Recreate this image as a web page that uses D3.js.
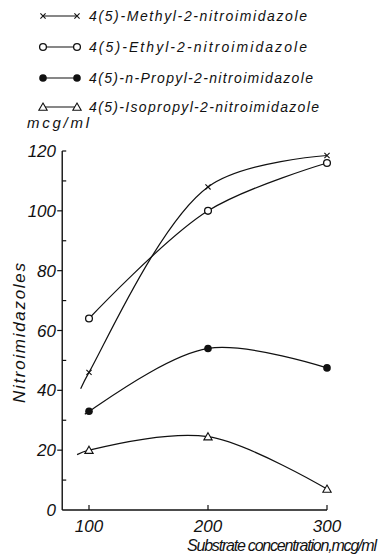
<!DOCTYPE html>
<html>
<head>
<meta charset="utf-8">
<script src="https://cdn.jsdelivr.net/npm/d3@7"></script>
<style>
  body { margin: 0; background: #fff; }
  svg text { font-family: "Liberation Sans", Arial, sans-serif; font-style: italic; fill: #111; }
</style>
</head>
<body>
<div id="chart"></div>
<script>
// substrate concentration (mcg/ml)
const concentrations = [100, 200, 300];

const seriesNames = [
  "4(5)-Methyl-2-nitroimidazole",
  "4(5)-Ethyl-2-nitroimidazole",
  "4(5)-n-Propyl-2-nitroimidazole",
  "4(5)-Isopropyl-2-nitroimidazole"
];
const seriesMarkers = ["cross", "circle", "dot", "triangle"];

// nitroimidazoles, mcg/ml
const methylValues = [46, 108, 118.5];
const ethylValues = [64, 100, 116];
const propylValues = [33, 54, 47.5];
const isopropylValues = [20, 24.5, 7];

// where each hand-drawn curve starts, left of the first point [x, y]
const curveStarts = [[93, 40.5], null, [96.5, 32], [90, 18.5]];

const yTicks = [0, 20, 40, 60, 80, 100, 120];
const yMinorTicks = [10, 30, 50, 70, 90, 110];
const xTicks = [100, 200, 300];

const allValues = [methylValues, ethylValues, propylValues, isopropylValues];

const width = 380, height = 554;

const svg = d3.select("#chart").append("svg")
  .attr("width", width)
  .attr("height", height);

const x = d3.scaleLinear().domain([100, 300]).range([89, 327]);
const y = d3.scaleLinear().domain([0, 120]).range([510, 151]);

// axes
svg.append("line")
  .attr("x1", x(77.5)).attr("x2", x(77.5))
  .attr("y1", y(120)).attr("y2", y(0))
  .attr("stroke", "#111").attr("stroke-width", 1.4);
svg.append("line")
  .attr("x1", x(77.5)).attr("x2", x(300))
  .attr("y1", y(0)).attr("y2", y(0))
  .attr("stroke", "#111").attr("stroke-width", 1.4);

svg.selectAll(".ytick")
  .data(yTicks.filter(d => d > 0 && d < 120))
  .enter().append("line")
  .attr("x1", x(77.5) - 5).attr("x2", x(77.5))
  .attr("y1", d => y(d)).attr("y2", d => y(d))
  .attr("stroke", "#111").attr("stroke-width", 1.2);

svg.selectAll(".yminor")
  .data(yMinorTicks.concat([120]))
  .enter().append("line")
  .attr("x1", x(77.5)).attr("x2", x(77.5) + 4)
  .attr("y1", d => y(d)).attr("y2", d => y(d))
  .attr("stroke", "#111").attr("stroke-width", 1.2);

svg.selectAll(".ylabel")
  .data(yTicks)
  .enter().append("text")
  .attr("x", 56)
  .attr("y", d => y(d) + 6)
  .attr("text-anchor", "end")
  .attr("font-size", 17)
  .text(d => d);

svg.selectAll(".xtick")
  .data(xTicks)
  .enter().append("line")
  .attr("x1", d => x(d)).attr("x2", d => x(d))
  .attr("y1", y(0)).attr("y2", y(0) - 5)
  .attr("stroke", "#111").attr("stroke-width", 1.2);

svg.selectAll(".xlabel")
  .data(xTicks)
  .enter().append("text")
  .attr("x", d => x(d))
  .attr("y", 532)
  .attr("text-anchor", "middle")
  .attr("font-size", 17)
  .text(d => d);

svg.append("text")
  .attr("x", 377).attr("y", 551)
  .attr("text-anchor", "end")
  .attr("font-size", 16)
  .attr("textLength", 190)
  .text("Substrate concentration,mcg/ml");

svg.append("text")
  .attr("x", 27).attr("y", 128)
  .attr("font-size", 15)
  .attr("textLength", 62)
  .text("mcg/ml");

svg.append("text")
  .attr("transform", "translate(25,333) rotate(-90)")
  .attr("text-anchor", "middle")
  .attr("font-size", 17)
  .attr("textLength", 140)
  .text("Nitroimidazoles");

// markers
function drawMarker(g, type, cx, cy) {
  if (type === "cross") {
    const s = 2.6;
    g.append("path")
      .attr("d", `M${cx - s},${cy - s}L${cx + s},${cy + s}M${cx - s},${cy + s}L${cx + s},${cy - s}`)
      .attr("stroke", "#111").attr("stroke-width", 1.1);
  } else if (type === "circle") {
    g.append("circle").attr("cx", cx).attr("cy", cy).attr("r", 3.4)
      .attr("fill", "#fff").attr("stroke", "#111").attr("stroke-width", 1.3);
  } else if (type === "dot") {
    g.append("circle").attr("cx", cx).attr("cy", cy).attr("r", 3.8)
      .attr("fill", "#111");
  } else {
    g.append("path")
      .attr("d", d3.symbol(d3.symbolTriangle, 30)())
      .attr("transform", `translate(${cx},${cy + 0.8})`)
      .attr("fill", "#fff").attr("stroke", "#111").attr("stroke-width", 1.1);
  }
}

const line = d3.line()
  .x(d => x(d[0]))
  .y(d => y(d[1]))
  .curve(d3.curveCatmullRom.alpha(0.5));

allValues.forEach((vals, i) => {
  const pts = concentrations.map((c, j) => [c, vals[j]]);
  const path = curveStarts[i] ? [curveStarts[i]].concat(pts) : pts;
  const g = svg.append("g");
  g.append("path")
    .attr("d", line(path))
    .attr("fill", "none")
    .attr("stroke", "#111")
    .attr("stroke-width", 1.2);
  pts.forEach(p => drawMarker(g, seriesMarkers[i], x(p[0]), y(p[1])));
});

// legend
const legendRows = [16, 47, 78, 107];
const legendTextLen = [218, 218, 224, 230];
seriesNames.forEach((name, i) => {
  const g = svg.append("g");
  const ly = legendRows[i];
  g.append("line")
    .attr("x1", 43).attr("x2", 77)
    .attr("y1", ly).attr("y2", ly)
    .attr("stroke", "#111").attr("stroke-width", 1.2);
  drawMarker(g, seriesMarkers[i], 43, ly);
  drawMarker(g, seriesMarkers[i], 77, ly);
  g.append("text")
    .attr("x", 89).attr("y", ly + 5)
    .attr("font-size", 14)
    .attr("textLength", legendTextLen[i])
    .text(name);
});
</script>
</body>
</html>
